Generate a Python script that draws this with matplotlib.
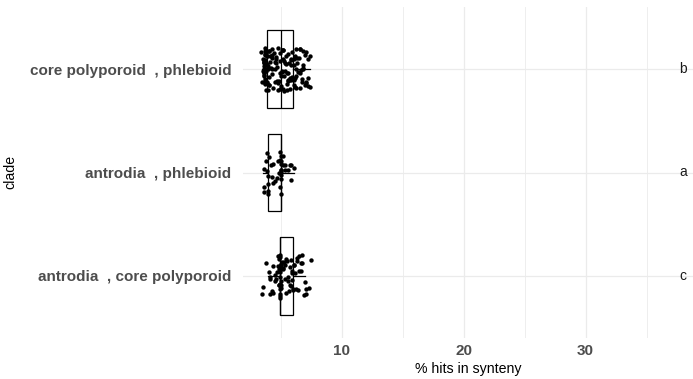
import matplotlib
matplotlib.use("Agg")
import matplotlib.pyplot as plt
import numpy as np

# clades, bottom to top
clades = ['antrodia  , core polyporoid', 'antrodia  , phlebioid', 'core polyporoid  , phlebioid']
letters = ['c', 'a', 'b']

# % hits in synteny
hits_ant_core = [3.55, 3.62, 3.80, 3.98, 4.05, 4.12, 4.20, 4.28, 4.35, 4.42,
                 4.50, 4.57, 4.63, 4.69, 4.75, 4.80, 4.85, 4.89, 4.92, 4.94,
                 4.95, 4.95, 4.95, 4.95, 4.95, 4.95, 4.95, 4.95, 4.96, 4.96,
                 4.96, 4.96, 4.96, 4.96, 4.97, 4.97, 4.97, 4.97, 4.97, 4.97,
                 5.05, 5.12, 5.18, 5.24, 5.30, 5.36, 5.42, 5.48, 5.54, 5.60,
                 5.65, 5.70, 5.75, 5.80, 5.85, 5.89, 5.93, 5.96, 5.99, 6.02,
                 6.05, 6.10, 6.15, 6.20, 6.26, 6.32, 6.38, 6.44, 6.50, 6.56,
                 6.62, 6.68, 6.74, 6.80, 6.87, 6.93, 6.99, 7.15, 7.30, 7.40]
hits_ant_phleb = [3.55, 3.62, 3.70, 3.78, 3.84, 3.88, 3.92, 3.95, 3.97, 3.99,
                  4.02, 4.11, 4.21, 4.33, 4.44, 4.56, 4.67, 4.78, 4.88, 4.96,
                  5.00, 5.00, 5.00, 5.00, 5.00, 5.00, 5.00, 5.00, 5.01, 5.01,
                  5.06, 5.14, 5.23, 5.33, 5.44, 5.56, 5.68, 5.80, 5.93, 6.08]
hits_core_phleb = [3.47, 3.50, 3.52, 3.55, 3.57, 3.58, 3.60, 3.61, 3.62, 3.63,
                   3.64, 3.65, 3.66, 3.67, 3.68, 3.69, 3.70, 3.71, 3.72, 3.73,
                   3.74, 3.75, 3.76, 3.77, 3.78, 3.79, 3.80, 3.81, 3.82, 3.83,
                   3.84, 3.85, 3.86, 3.88, 3.89,
                   3.91, 3.93, 3.95, 3.98, 4.01, 4.04, 4.06, 4.09, 4.12, 4.15,
                   4.18, 4.21, 4.25, 4.28, 4.31, 4.35, 4.38, 4.42, 4.45, 4.49,
                   4.52, 4.55, 4.58, 4.62, 4.65, 4.68, 4.71, 4.74, 4.77, 4.80,
                   4.84, 4.87, 4.91, 4.95, 4.98,
                   5.02, 5.05, 5.07, 5.10, 5.13, 5.15, 5.18, 5.21, 5.24, 5.27,
                   5.30, 5.33, 5.36, 5.39, 5.42, 5.45, 5.48, 5.51, 5.54, 5.57,
                   5.60, 5.63, 5.66, 5.69, 5.72, 5.75, 5.78, 5.81, 5.84, 5.87,
                   5.90, 5.92, 5.95, 5.97, 5.99,
                   6.02, 6.05, 6.08, 6.11, 6.14, 6.18, 6.21, 6.25, 6.28, 6.32,
                   6.35, 6.39, 6.43, 6.47, 6.51, 6.55, 6.59, 6.63, 6.67, 6.71,
                   6.75, 6.79, 6.83, 6.87, 6.91, 6.95, 6.99, 7.03, 7.08, 7.13,
                   7.18, 7.23, 7.28, 7.33, 7.38]
hits = [hits_ant_core, hits_ant_phleb, hits_core_phleb]

# box statistics
q1 = [4.95, 4.00, 3.90]
med = [4.95, 5.00, 5.00]
q3 = [6.03, 5.02, 6.03]
whislo = [3.98, 3.55, 3.47]
whishi = [7.00, 6.05, 7.38]

fig = plt.figure(figsize=(6.93, 3.79), dpi=100)
ax = fig.add_axes([243 / 693, 41 / 379, 450 / 693, 331 / 379])

stats = []
for i in range(3):
    stats.append(dict(q1=q1[i], med=med[i], q3=q3[i], whislo=whislo[i], whishi=whishi[i]))
ax.bxp(stats, positions=[1, 2, 3], vert=False, widths=0.75, showcaps=False,
       showfliers=False, patch_artist=True,
       boxprops=dict(facecolor='none', edgecolor='black', linewidth=0.9),
       medianprops=dict(color='black', linewidth=0.9),
       whiskerprops=dict(color='black', linewidth=0.9), zorder=2)

# jitter like geom_jitter
rng = np.random.default_rng(3)
for i, vals in enumerate(hits):
    yj = (i + 1) + rng.uniform(-0.21, 0.21, len(vals))
    xj = np.array(vals) + rng.uniform(-0.08, 0.08, len(vals))
    ax.scatter(xj, yj, s=10, color='black', linewidths=0, zorder=3)

for i, lab in enumerate(letters):
    ax.text(38, i + 1, lab, ha='center', va='center', fontsize=10,
            family='Liberation Sans', color='#1a1a1a')

ax.set_xlim(1.91, 38.8)
ax.set_ylim(0.4, 3.6)
ax.set_xticks([10, 20, 30])
ax.set_xticks([5, 15, 25, 35], minor=True)
ax.set_yticks([1, 2, 3])
ax.set_yticklabels(clades)
ax.grid(True, which='major', color='#EBEBEB', linewidth=0.9, zorder=0)
ax.grid(True, which='minor', axis='x', color='#EBEBEB', linewidth=0.6, zorder=0)
ax.set_axisbelow(True)
for s in ax.spines.values():
    s.set_visible(False)
ax.tick_params(which='both', length=0)
ax.tick_params(axis='y', pad=8.5)
ax.tick_params(axis='x', pad=4)
for t in ax.get_yticklabels() + ax.get_xticklabels():
    t.set_fontfamily('Liberation Sans')
    t.set_fontweight('bold')
    t.set_fontsize(11)
    t.set_color('#4D4D4D')

ax.set_xlabel('% hits in synteny', fontsize=10.2, family='Liberation Sans', labelpad=3.5)
fig.text(10 / 693, 1 - 172 / 379, 'clade', rotation=90, ha='center', va='center',
         fontsize=10.2, family='Liberation Sans')

fig.savefig('out.png', dpi=100)
